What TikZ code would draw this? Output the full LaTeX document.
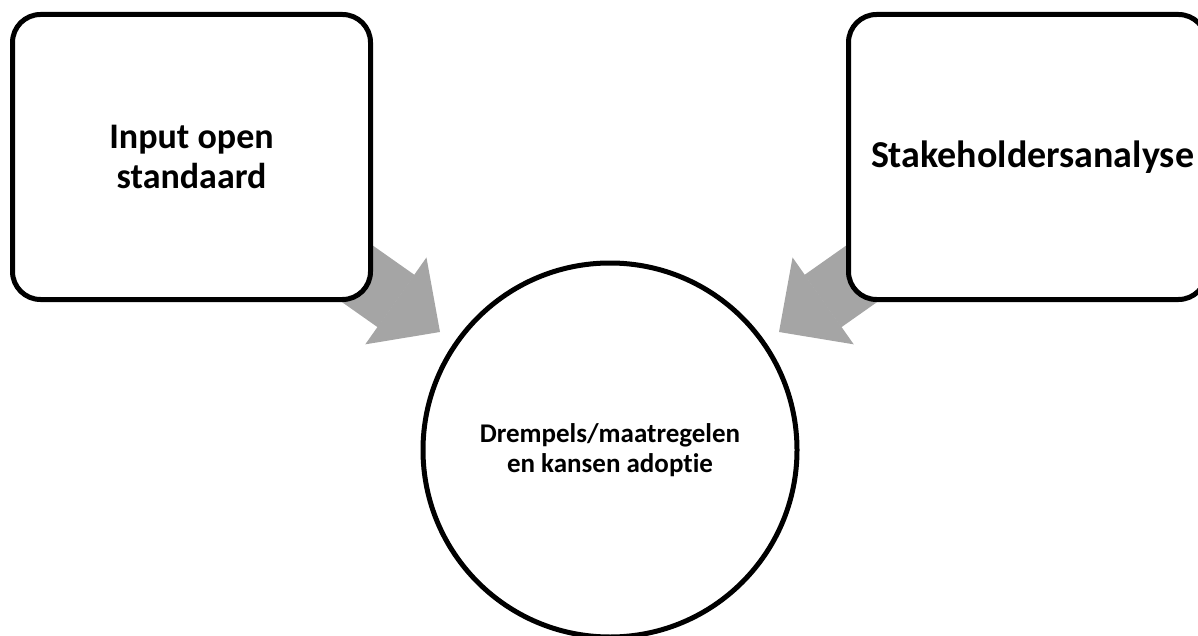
\documentclass[tikz,border=0pt]{standalone}
\usepackage{fontspec}
\setmainfont{Carlito}[Ligatures=NoCommon]
\usetikzlibrary{arrows.meta,backgrounds}
\definecolor{arrowgray}{HTML}{A5A5A5}
\tikzset{
  inbox/.style={draw=black, fill=white, line width=5pt, rounded corners=28pt,
    minimum width=358pt, minimum height=285pt, align=center,
    font=\fontsize{36}{40}\selectfont\bfseries},
  hub/.style={circle, draw=black, fill=white, line width=5pt, minimum size=374pt,
    align=center, font=\fontsize{27}{30}\selectfont\bfseries},
  fatarrow/.style={draw=arrowgray, line width=64pt,
    -{Triangle[length=54pt, width=106pt, line width=1.5pt]}}
}
\begin{document}
\begin{tikzpicture}[x=1pt, y=-1pt]
    \useasboundingbox (0, 0) rectangle (1198, 636);
    \node[inbox] (input) at (191.5, 157) {Input open\\standaard};
    \node[inbox, font=\fontsize{38}{40}\selectfont\bfseries] (stake) at (1027.5, 157) {\hspace*{10pt}Stakeholdersanalyse};
    \node[hub] (drempel) at (610, 450) {Drempels/maatregelen\\en kansen adoptie};
    \coordinate (tipL) at (440, 332);
    \coordinate (tipR) at (779, 332);
    \begin{scope}[on background layer]
      \draw[fatarrow] (input.center) -- (tipL);
      \draw[fatarrow] (stake.center) -- (tipR);
    \end{scope}
\end{tikzpicture}
\end{document}
